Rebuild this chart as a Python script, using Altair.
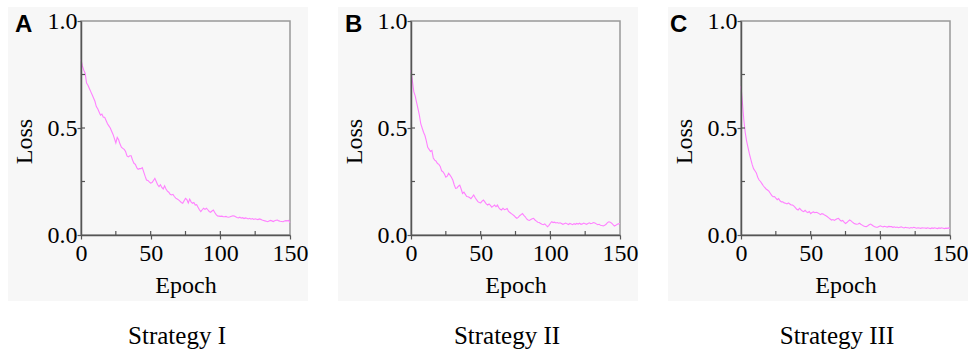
import altair as alt
import pandas as pd

epochs = list(range(0, 151))

loss_a = [0.82, 0.79, 0.77, 0.755, 0.71, 0.70, 0.685, 0.67, 0.655, 0.64,
          0.625, 0.60, 0.59, 0.575, 0.56, 0.565, 0.55, 0.55, 0.535, 0.52,
          0.51, 0.50, 0.485, 0.47, 0.45, 0.43, 0.456, 0.445, 0.425, 0.41,
          0.405, 0.40, 0.39, 0.37, 0.365, 0.37, 0.37, 0.35, 0.335, 0.33,
          0.315, 0.307, 0.31, 0.31, 0.315, 0.295, 0.275, 0.257, 0.255, 0.248,
          0.242, 0.245, 0.255, 0.265, 0.25, 0.235, 0.226, 0.235, 0.222, 0.215,
          0.23, 0.215, 0.205, 0.2, 0.19, 0.187, 0.19, 0.18, 0.172, 0.168,
          0.164, 0.158, 0.152, 0.148, 0.16, 0.171, 0.165, 0.15, 0.168, 0.155,
          0.148, 0.152, 0.14, 0.142, 0.13, 0.118, 0.109, 0.118, 0.125, 0.12,
          0.125, 0.118, 0.11, 0.106, 0.112, 0.117, 0.105, 0.095, 0.089, 0.088,
          0.087, 0.088, 0.086, 0.085, 0.087, 0.084, 0.083, 0.085, 0.088, 0.09,
          0.089, 0.085, 0.082, 0.08, 0.083, 0.079, 0.081, 0.077, 0.08, 0.078,
          0.075, 0.078, 0.074, 0.077, 0.073, 0.076, 0.074, 0.072, 0.075, 0.073,
          0.07, 0.068, 0.066, 0.064, 0.062, 0.065, 0.068, 0.066, 0.063, 0.067,
          0.069, 0.07, 0.066, 0.064, 0.063, 0.062, 0.065, 0.067, 0.066, 0.068,
          0.058]

loss_b = [0.77, 0.72, 0.67, 0.65, 0.62, 0.59, 0.56, 0.52, 0.50, 0.48,
          0.465, 0.44, 0.41, 0.40, 0.39, 0.395, 0.36, 0.35, 0.345, 0.334,
          0.33, 0.32, 0.30, 0.295, 0.285, 0.27, 0.275, 0.288, 0.28, 0.27,
          0.257, 0.235, 0.218, 0.22, 0.228, 0.233, 0.215, 0.194, 0.2, 0.19,
          0.18, 0.179, 0.175, 0.17, 0.178, 0.187, 0.175, 0.165, 0.156, 0.152,
          0.15, 0.158, 0.163, 0.155, 0.145, 0.14, 0.145, 0.138, 0.13, 0.135,
          0.14, 0.132, 0.14, 0.128, 0.12, 0.117, 0.125, 0.118, 0.12, 0.124,
          0.11, 0.105, 0.10, 0.095, 0.09, 0.083, 0.078, 0.082, 0.09, 0.095,
          0.10, 0.092, 0.085, 0.075, 0.07, 0.068, 0.072, 0.076, 0.078, 0.07,
          0.065, 0.06, 0.058, 0.054, 0.05, 0.048, 0.052, 0.045, 0.039, 0.045,
          0.055, 0.062, 0.058, 0.06, 0.056, 0.058, 0.055, 0.057, 0.054, 0.05,
          0.053, 0.056, 0.052, 0.049, 0.054, 0.051, 0.048, 0.053, 0.05, 0.054,
          0.051, 0.055, 0.05, 0.052, 0.056, 0.053, 0.05, 0.054, 0.057, 0.053,
          0.055, 0.058, 0.056, 0.052, 0.048, 0.05, 0.046, 0.044, 0.042, 0.045,
          0.05, 0.058, 0.062, 0.06, 0.055, 0.048, 0.042, 0.045, 0.05, 0.052,
          0.054]

loss_c = [0.695, 0.62, 0.54, 0.48, 0.44, 0.41, 0.38, 0.355, 0.33, 0.31,
          0.30, 0.29, 0.27, 0.257, 0.25, 0.24, 0.23, 0.222, 0.215, 0.21,
          0.205, 0.195, 0.185, 0.179, 0.18, 0.172, 0.165, 0.17, 0.16, 0.155,
          0.155, 0.15, 0.148, 0.145, 0.15, 0.145, 0.14, 0.14, 0.135, 0.128,
          0.12, 0.117, 0.125, 0.118, 0.112, 0.109, 0.115, 0.108, 0.105, 0.11,
          0.10, 0.105, 0.108, 0.104, 0.106, 0.104, 0.1, 0.095, 0.1, 0.098,
          0.093, 0.09, 0.085, 0.08, 0.075, 0.07, 0.072, 0.068, 0.072, 0.076,
          0.078, 0.07, 0.065, 0.068, 0.06, 0.054, 0.058, 0.065, 0.07, 0.066,
          0.06, 0.055, 0.052, 0.05, 0.051, 0.055, 0.05, 0.046, 0.042, 0.04,
          0.039, 0.043, 0.048, 0.051, 0.047, 0.042, 0.038, 0.036, 0.036, 0.04,
          0.043, 0.04, 0.038, 0.041, 0.039, 0.037, 0.04, 0.039, 0.039, 0.036,
          0.038, 0.035, 0.037, 0.034, 0.036, 0.038, 0.035, 0.033, 0.036, 0.034,
          0.034, 0.032, 0.035, 0.033, 0.036, 0.034, 0.032, 0.034, 0.033, 0.031,
          0.034, 0.033, 0.033, 0.031, 0.034, 0.032, 0.03, 0.033, 0.031, 0.034,
          0.032, 0.03, 0.033, 0.031, 0.034, 0.032, 0.03, 0.032, 0.031, 0.033,
          0.031]

panel_letters = ["A", "B", "C"]
strategy_labels = ["Strategy I", "Strategy II", "Strategy III"]
x_tick_values = [0, 50, 100, 150]
x_minor_ticks = [25, 50, 75, 100, 125]
y_tick_values = [0.0, 0.5, 1.0]
y_minor_ticks = [0.25, 0.5, 0.75]

W, H = 209, 214
SERIF = "Liberation Serif"
AXIS_COL = "#555555"
LINE_COL = "#ff80ff"


def panel(letter, strat, values, letter_dx):
    df = pd.DataFrame({"Epoch": epochs, "Loss": values})
    one = pd.DataFrame({"k": [0]})

    bg = alt.Chart(one).mark_rect(fill="#f7f7f7").encode(
        x=alt.value(-73), x2=alt.value(W + 18),
        y=alt.value(-14), y2=alt.value(H + 66))
    frame = alt.Chart(one).mark_rect(filled=False, stroke="#999999", strokeWidth=1.5).encode(
        x=alt.value(0), x2=alt.value(W), y=alt.value(0), y2=alt.value(H))

    line = alt.Chart(df).mark_line(color=LINE_COL, strokeWidth=1.1).encode(
        x=alt.X("Epoch:Q", scale=alt.Scale(domain=[0, 150], nice=False),
                axis=alt.Axis(values=x_tick_values, format="d", grid=False,
                              labelFont=SERIF, labelFontSize=24, labelColor="black",
                              labelFlush=False, labelBaseline="alphabetic",
                              tickSize=4, labelPadding=21,
                              tickColor=AXIS_COL, tickWidth=1.2,
                              domainColor=AXIS_COL, domainWidth=1.5,
                              title="Epoch", titleFont=SERIF, titleFontSize=24,
                              titleFontWeight="normal", titleColor="black",
                              titleBaseline="alphabetic", titleY=57, zindex=1)),
        y=alt.Y("Loss:Q", scale=alt.Scale(domain=[0, 1], nice=False),
                axis=alt.Axis(values=y_tick_values, format=".1f", grid=False,
                              labelFont=SERIF, labelFontSize=24, labelColor="black",
                              labelFlush=False, tickSize=4, labelPadding=0,
                              tickColor=AXIS_COL, tickWidth=1.2,
                              domainColor=AXIS_COL, domainWidth=1.5,
                              title="Loss", titleFont=SERIF, titleFontSize=24,
                              titleFontWeight="normal", titleColor="black",
                              titleBaseline="alphabetic", titleX=-50, titleY=120,
                              zindex=1)),
    )

    xminor = alt.Chart(pd.DataFrame({"Epoch": x_minor_ticks})).mark_rule(
        color=AXIS_COL, strokeWidth=1.2).encode(
        x="Epoch:Q", y=alt.value(H), y2=alt.value(H - 4))
    yminor = alt.Chart(pd.DataFrame({"Loss": y_minor_ticks})).mark_rule(
        color=AXIS_COL, strokeWidth=1.2).encode(
        y="Loss:Q", x=alt.value(0), x2=alt.value(4))

    letter_txt = alt.Chart(one).mark_text(
        text=letter, font="Liberation Sans", fontWeight="bold", fontSize=24,
        align="left", baseline="alphabetic", color="black").encode(
        x=alt.value(letter_dx), y=alt.value(11))
    strat_txt = alt.Chart(one).mark_text(
        text=strat, font=SERIF, fontSize=25, align="center",
        baseline="alphabetic", color="black").encode(
        x=alt.value(96), y=alt.value(323))

    return alt.layer(bg, frame, line, xminor, yminor, letter_txt, strat_txt).properties(
        width=W, height=H)


panels = [panel(l, s, v, dx) for l, s, v, dx in
          zip(panel_letters, strategy_labels, [loss_a, loss_b, loss_c], [-66, -66, -71])]

chart = alt.hconcat(*panels, spacing=121, bounds="flush").properties(
    padding={"left": 8, "top": 7, "right": 0, "bottom": 0},
    background="white",
).configure_view(strokeWidth=0)

chart.save("out.html", embed_options={"renderer": "svg", "actions": False})
